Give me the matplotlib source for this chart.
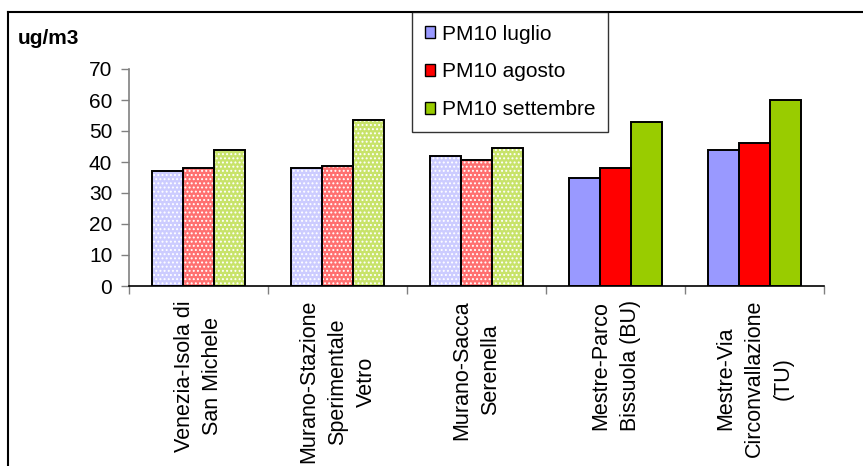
import matplotlib
matplotlib.use("Agg")
import matplotlib.pyplot as plt
from matplotlib.patches import Patch
from matplotlib.lines import Line2D
import numpy as np

plt.rcParams['font.family'] = ['Liberation Sans', 'DejaVu Sans']
plt.rcParams['hatch.linewidth'] = 0.9

stations = [
    "Venezia-Isola di\nSan Michele",
    "Murano-Stazione\nSperimentale\nVetro",
    "Murano-Sacca\nSerenella",
    "Mestre-Parco\nBissuola (BU)",
    "Mestre-Via\nCirconvallazione\n(TU)",
]
series_names = ["PM10 luglio", "PM10 agosto", "PM10 settembre"]
pm10_luglio = [37, 38, 42, 35, 44]
pm10_agosto = [38, 38.7, 40.7, 38, 46]
pm10_settembre = [44, 53.5, 44.5, 53, 60]
# stations with partial data are drawn with a dotted fill
partial = [True, True, True, False, False]

colors = ["#9999FF", "#FF0000", "#99CC00"]
light = ["#CCCCFF", "#FF7070", "#C8E36A"]

W, H = 863, 466
fig = plt.figure(figsize=(W / 100, H / 100), dpi=100)
ax = fig.add_axes([129 / W, 1 - 286 / H, 695 / W, 217 / H])

values = [pm10_luglio, pm10_agosto, pm10_settembre]
bw = 0.223
x = np.arange(len(stations)) + 0.5
for k, vals in enumerate(values):
    xs = x + (k - 1) * bw
    for xi, v, p in zip(xs, vals, partial):
        if p:
            ax.bar(xi, v, bw, color=light[k], edgecolor='white', hatch='....',
                   linewidth=0, zorder=2)
        else:
            ax.bar(xi, v, bw, color=colors[k], linewidth=0, zorder=2)
        ax.bar(xi, v, bw, fill=False, edgecolor='black', linewidth=1.4, zorder=3)

ax.set_xlim(0, len(stations))
ax.set_ylim(0, 70)
ax.set_yticks(np.arange(0, 71, 10))
ax.tick_params(axis='y', labelsize=15, length=6, width=1, color='#808080', pad=6)
ax.set_xticks(np.arange(0, len(stations) + 1))
ax.set_xticklabels([])
ax.tick_params(axis='x', length=6, width=1, color='#808080')
for s in ['top', 'right']:
    ax.spines[s].set_visible(False)
ax.spines['left'].set_color('#808080')
ax.spines['left'].set_linewidth(1.2)
ax.spines['bottom'].set_color('black')
ax.spines['bottom'].set_linewidth(1.2)

for xi, name in zip(x, stations):
    ax.text(xi, -4.5, name, rotation=90, ha='center', va='top',
            multialignment='center', fontsize=15.5, linespacing=1.5,
            transform=ax.transData)

fig.text(18 / W, 1 - 39 / H, "ug/m3", fontsize=15, fontweight='bold',
         va='center', ha='left')

# outer frame (top and left edges)
fig.add_artist(Line2D([8 / W, 1], [1 - 12 / H, 1 - 12 / H], transform=fig.transFigure,
                      color='black', lw=1.5))
fig.add_artist(Line2D([8 / W, 8 / W], [1 - 12 / H, 0], transform=fig.transFigure,
                      color='black', lw=1.5))

handles = [Patch(facecolor=c, edgecolor='black', linewidth=1.0) for c in colors]
leg = fig.legend(handles, series_names, loc='upper left',
                 bbox_to_anchor=(412 / W, 1 - 12 / H), fontsize=15,
                 frameon=True, fancybox=False, handlelength=0.5, handleheight=0.5,
                 handletextpad=0.35, labelspacing=0.9, borderpad=0.6,
                 borderaxespad=0)
leg.get_frame().set_edgecolor('black')
leg.get_frame().set_linewidth(1.0)

fig.savefig("out.png", dpi=100)
